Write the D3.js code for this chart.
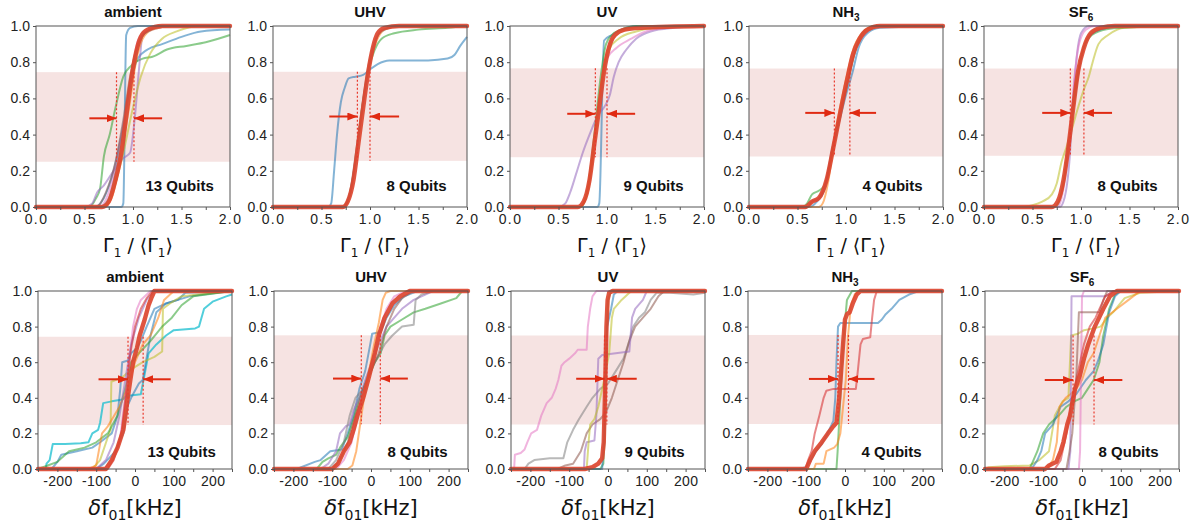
<!DOCTYPE html>
<html>
<head>
<meta charset="utf-8">
<script src="https://cdn.jsdelivr.net/npm/d3@7"></script>
<style>
  body { margin: 0; background: #fff; }
  svg { display: block; font-family: "Liberation Sans", Arial, sans-serif; }
</style>
</head>
<body>
<div id="chart"></div>
<script>
// ---- data ----
const titles = ['ambient', 'UHV', 'UV', 'NH3', 'SF6'];
const qubits = [13, 8, 9, 4, 8];

const gammaTicks = [0, 0.5, 1, 1.5, 2];
const gammaMinor = [0.25, 0.75, 1.25, 1.75];
const freqTicks = [-200, -100, 0, 100, 200];
const freqMinor = [-250, -150, -50, 50, 150, 250];
const cdfTicks = [0, 0.2, 0.4, 0.6, 0.8, 1];

const gammaBands = [[0.25, 0.745], [0.255, 0.747], [0.275, 0.766], [0.279, 0.765], [0.283, 0.765]];
const freqBands = [[0.247, 0.743], [0.252, 0.751], [0.25, 0.75], [0.253, 0.753], [0.25, 0.75]];
const gammaQuartiles = [[0.83, 1.01], [0.87, 1.0], [0.88, 1.0], [0.88, 1.04], [0.89, 1.03]];
const freqQuartiles = [[-18, 21], [-25, 24], [-9, -3], [-18, 9], [-23, 31]];
// arrow tails (left, right) and height
const gammaArrows = [[0.55, 1.30, 0.49], [0.58, 1.30, 0.5], [0.59, 1.29, 0.515], [0.58, 1.31, 0.52], [0.60, 1.32, 0.52]];
const freqArrows = [[-94, 92, 0.504], [-98, 95, 0.508], [-82, 74, 0.507], [-93, 76, 0.506], [-96, 104, 0.5]];

const gammaAmbient = [
  { c: 'blue', p: [[0,0],[0.88,0],[0.9,0.02],[0.93,0.95],[0.97,0.99],[1.05,1],[2,1]] },
  { c: 'blue', p: [[0,0],[0.6,0],[0.7,0.05],[0.8,0.2],[0.9,0.45],[0.98,0.7],[1.05,0.82],[1.15,0.87],[1.3,0.9],[1.5,0.94],[1.7,0.97],[2,0.98]] },
  { c: 'green', p: [[0,0],[0.55,0],[0.62,0.05],[0.66,0.1],[0.7,0.28],[0.76,0.4],[0.82,0.55],[0.9,0.72],[0.98,0.78],[1.1,0.82],[1.2,0.83],[1.35,0.87],[1.55,0.89],[1.75,0.91],[2,0.95]] },
  { c: 'purple', p: [[0,0],[0.5,0],[0.58,0.02],[0.63,0.08],[0.7,0.12],[0.8,0.2],[0.9,0.27],[0.97,0.3],[1.02,0.5],[1.06,0.75],[1.1,0.95],[1.2,0.98],[1.4,1],[2,1]] },
  { c: 'olive', p: [[0,0],[0.7,0],[0.8,0.1],[0.9,0.3],[1.0,0.55],[1.08,0.72],[1.18,0.85],[1.3,0.93],[1.45,0.97],[1.7,1],[2,1]] },
  { c: 'orange', p: [[0,0],[0.7,0],[0.78,0.05],[0.88,0.3],[0.96,0.55],[1.03,0.8],[1.1,0.93],[1.2,0.98],[1.4,1],[2,1]] },
  { c: 'pink', p: [[0,0],[0.65,0],[0.75,0.08],[0.85,0.3],[0.93,0.55],[1.0,0.78],[1.05,0.92],[1.15,0.98],[1.3,1],[2,1]] },
  { c: 'brown', p: [[0,0],[0.62,0],[0.72,0.08],[0.82,0.25],[0.9,0.48],[0.97,0.72],[1.04,0.88],[1.12,0.96],[1.3,1],[2,1]] },
  { c: 'gray', p: [[0,0],[0.66,0],[0.76,0.06],[0.85,0.28],[0.92,0.5],[0.99,0.74],[1.06,0.9],[1.15,0.97],[1.35,1],[2,1]] },
  { c: 'main', p: [[0,0],[0.68,0],[0.75,0.03],[0.82,0.15],[0.88,0.3],[0.93,0.5],[0.98,0.7],[1.03,0.85],[1.08,0.94],[1.15,0.98],[1.3,1],[2,1]] }
];
const gammaUHV = [
  { c: 'blue', p: [[0,0],[0.57,0],[0.6,0.02],[0.63,0.2],[0.66,0.4],[0.7,0.58],[0.74,0.66],[0.78,0.71],[0.85,0.72],[0.93,0.73],[1.0,0.76],[1.08,0.79],[1.2,0.81],[1.4,0.81],[1.6,0.81],[1.8,0.82],[1.87,0.84],[1.93,0.89],[2,0.94]] },
  { c: 'green', p: [[0,0],[0.72,0],[0.78,0.05],[0.85,0.25],[0.92,0.55],[0.98,0.75],[1.05,0.87],[1.12,0.93],[1.25,0.96],[1.5,0.98],[1.8,0.99],[2,1]] },
  { c: 'orange', p: [[0,0],[0.73,0],[0.8,0.08],[0.87,0.35],[0.94,0.62],[1.0,0.8],[1.07,0.92],[1.15,0.98],[1.3,1],[2,1]] },
  { c: 'purple', p: [[0,0],[0.72,0],[0.79,0.06],[0.86,0.3],[0.93,0.58],[0.99,0.78],[1.05,0.91],[1.13,0.98],[1.3,1],[2,1]] },
  { c: 'gray', p: [[0,0],[0.71,0],[0.78,0.05],[0.85,0.28],[0.92,0.56],[0.98,0.77],[1.04,0.9],[1.12,0.97],[1.3,1],[2,1]] },
  { c: 'main', p: [[0,0],[0.72,0],[0.77,0.03],[0.83,0.15],[0.88,0.35],[0.93,0.55],[0.98,0.74],[1.03,0.88],[1.08,0.96],[1.15,0.99],[1.3,1],[2,1]] }
];
const gammaUV = [
  { c: 'blue', p: [[0,0],[0.9,0],[0.92,0.02],[0.97,0.92],[1.05,0.95],[1.15,0.98],[1.3,1],[2,1]] },
  { c: 'purple', p: [[0,0],[0.5,0],[0.57,0.02],[0.62,0.08],[0.68,0.18],[0.75,0.3],[0.82,0.4],[0.9,0.5],[0.98,0.56],[1.03,0.62],[1.07,0.72],[1.12,0.8],[1.2,0.87],[1.3,0.93],[1.45,0.97],[1.7,0.99],[2,1]] },
  { c: 'pink', p: [[0,0],[0.72,0],[0.8,0.08],[0.88,0.4],[0.94,0.65],[1.0,0.82],[1.1,0.88],[1.25,0.93],[1.4,0.97],[1.6,0.99],[2,1]] },
  { c: 'green', p: [[0,0],[0.73,0],[0.8,0.1],[0.87,0.4],[0.93,0.7],[0.99,0.9],[1.05,0.95],[1.15,0.98],[1.3,1],[2,1]] },
  { c: 'olive', p: [[0,0],[0.72,0],[0.8,0.08],[0.88,0.38],[0.95,0.7],[1.02,0.87],[1.12,0.93],[1.3,0.97],[1.5,0.99],[2,1]] },
  { c: 'orange', p: [[0,0],[0.72,0],[0.79,0.07],[0.87,0.37],[0.94,0.68],[1.0,0.86],[1.08,0.94],[1.2,0.98],[1.4,1],[2,1]] },
  { c: 'main', p: [[0,0],[0.7,0],[0.76,0.03],[0.82,0.15],[0.87,0.35],[0.92,0.55],[0.97,0.75],[1.02,0.88],[1.08,0.95],[1.18,0.98],[1.35,0.99],[2,1]] }
];
const gammaNH3 = [
  { c: 'green', p: [[0,0],[0.55,0],[0.6,0.02],[0.65,0.07],[0.72,0.09],[0.78,0.12],[0.84,0.25],[0.9,0.4],[0.97,0.58],[1.03,0.72],[1.1,0.87],[1.17,0.96],[1.3,1],[2,1]] },
  { c: 'blue', p: [[0,0],[0.62,0],[0.7,0.03],[0.78,0.1],[0.85,0.3],[0.92,0.45],[0.99,0.6],[1.07,0.75],[1.13,0.88],[1.22,0.96],[1.35,0.99],[2,1]] },
  { c: 'orange', p: [[0,0],[0.72,0],[0.76,0.02],[0.82,0.15],[0.88,0.38],[0.95,0.58],[1.02,0.75],[1.08,0.88],[1.15,0.95],[1.3,1],[2,1]] },
  { c: 'red', p: [[0,0],[0.6,0],[0.65,0.03],[0.72,0.05],[0.8,0.15],[0.87,0.35],[0.95,0.55],[1.03,0.72],[1.1,0.87],[1.2,0.96],[1.35,1],[2,1]] },
  { c: 'main', p: [[0,0],[0.58,0],[0.65,0.03],[0.72,0.05],[0.8,0.15],[0.87,0.33],[0.94,0.52],[1.01,0.7],[1.07,0.84],[1.14,0.93],[1.22,0.98],[1.35,1],[2,1]] }
];
const gammaSF6 = [
  { c: 'olive', p: [[0,0],[0.4,0],[0.5,0.01],[0.6,0.03],[0.7,0.07],[0.75,0.13],[0.8,0.25],[0.85,0.33],[0.9,0.42],[0.97,0.55],[1.03,0.65],[1.08,0.72],[1.12,0.8],[1.18,0.9],[1.28,0.95],[1.45,0.99],[2,1]] },
  { c: 'purple', p: [[0,0],[0.78,0],[0.83,0.05],[0.88,0.25],[0.92,0.6],[0.96,0.85],[1.0,0.96],[1.08,1],[2,1]] },
  { c: 'green', p: [[0,0],[0.72,0],[0.8,0.08],[0.87,0.32],[0.93,0.6],[0.99,0.8],[1.06,0.92],[1.18,0.97],[1.4,0.99],[2,1]] },
  { c: 'blue', p: [[0,0],[0.74,0],[0.81,0.1],[0.88,0.38],[0.94,0.62],[1.0,0.82],[1.08,0.94],[1.2,0.98],[1.4,1],[2,1]] },
  { c: 'pink', p: [[0,0],[0.76,0],[0.82,0.1],[0.88,0.35],[0.93,0.7],[0.98,0.9],[1.05,0.98],[1.15,1],[2,1]] },
  { c: 'orange', p: [[0,0],[0.73,0],[0.8,0.07],[0.87,0.33],[0.93,0.6],[0.99,0.8],[1.06,0.93],[1.15,0.98],[1.35,1],[2,1]] },
  { c: 'main', p: [[0,0],[0.7,0],[0.76,0.03],[0.82,0.15],[0.87,0.33],[0.92,0.55],[0.97,0.75],[1.03,0.88],[1.1,0.96],[1.2,0.99],[1.35,1],[2,1]] }
];

const freqAmbient = [
  { c: 'cyan', p: [[-250,0],[-230,0],[-228,0.03],[-220,0.05],[-212,0.14],[-180,0.14],[-140,0.145],[-120,0.15],[-110,0.2],[-95,0.22],[-90,0.26],[-82,0.37],[-60,0.38],[-32,0.39],[-22,0.41],[15,0.42],[22,0.5],[35,0.65],[55,0.7],[80,0.75],[100,0.78],[155,0.79],[165,0.8],[178,0.9],[200,0.94],[235,0.97],[250,0.98]] },
  { c: 'blue', p: [[-250,0],[-215,0],[-200,0.04],[-190,0.08],[-150,0.1],[-110,0.12],[-90,0.15],[-60,0.2],[-45,0.3],[-38,0.45],[-33,0.6],[-18,0.61],[-10,0.65],[5,0.68],[15,0.72],[30,0.8],[50,0.9],[80,0.93],[110,0.95],[130,0.99],[250,1]] },
  { c: 'blue', p: [[-250,0],[-100,0],[-80,0.03],[-50,0.1],[-30,0.2],[-20,0.35],[-10,0.4],[10,0.48],[20,0.5],[28,0.6],[40,0.75],[55,0.88],[80,0.93],[140,0.97],[250,1]] },
  { c: 'olive', p: [[-250,0],[-110,0],[-90,0.05],[-70,0.18],[-63,0.22],[-61,0.49],[-50,0.5],[-30,0.52],[-10,0.56],[20,0.6],[50,0.63],[70,0.66],[72,0.9],[90,0.93],[120,0.97],[250,1]] },
  { c: 'green', p: [[-250,0],[-225,0.02],[-200,0.04],[-170,0.1],[-130,0.12],[-100,0.15],[-70,0.2],[-45,0.3],[-25,0.45],[-10,0.6],[10,0.65],[40,0.72],[70,0.8],[95,0.85],[120,0.92],[150,0.97],[250,1]] },
  { c: 'orange', p: [[-250,0],[-120,0],[-100,0.02],[-85,0.2],[-70,0.24],[-40,0.35],[-20,0.45],[0,0.6],[20,0.7],[40,0.75],[60,0.85],[75,0.95],[100,1],[250,1]] },
  { c: 'pink', p: [[-250,0],[-80,0],[-60,0.05],[-40,0.15],[-25,0.4],[-15,0.6],[-5,0.8],[5,0.9],[15,0.95],[40,1],[250,1]] },
  { c: 'purple', p: [[-250,0],[-100,0],[-75,0.05],[-55,0.15],[-40,0.3],[-25,0.5],[-10,0.7],[10,0.85],[30,0.95],[50,1],[250,1]] },
  { c: 'red', p: [[-250,0],[-70,0],[-55,0.05],[-35,0.2],[-22,0.45],[-12,0.65],[0,0.8],[15,0.9],[30,0.96],[45,1],[250,1]] },
  { c: 'main', p: [[-250,0],[-75,0],[-60,0.05],[-45,0.12],[-30,0.22],[-20,0.38],[-12,0.5],[-5,0.6],[5,0.68],[12,0.75],[25,0.84],[35,0.92],[42,0.96],[50,1],[250,1]] }
];
const freqUHV = [
  { c: 'blue', p: [[-250,0],[-190,0],[-180,0.01],[-145,0.04],[-130,0.05],[-115,0.08],[-105,0.1],[-75,0.11],[-60,0.2],[-45,0.3],[-30,0.45],[-15,0.55],[-2,0.7],[3,0.76],[25,0.77],[40,0.85],[60,0.92],[85,0.97],[120,1],[250,1]] },
  { c: 'green', p: [[-250,0],[-140,0],[-125,0.04],[-110,0.06],[-90,0.08],[-80,0.12],[-60,0.18],[-45,0.28],[-30,0.4],[-10,0.5],[10,0.6],[25,0.65],[35,0.75],[50,0.8],[80,0.84],[110,0.88],[140,0.9],[180,0.93],[220,0.96],[235,1],[250,1]] },
  { c: 'purple', p: [[-250,0],[-130,0],[-110,0.03],[-90,0.1],[-80,0.2],[-65,0.24],[-55,0.25],[-45,0.33],[-30,0.4],[-15,0.5],[5,0.62],[20,0.7],[40,0.8],[60,0.85],[80,0.9],[110,0.95],[140,0.98],[160,1],[250,1]] },
  { c: 'gray', p: [[-250,0],[-110,0],[-90,0.05],[-70,0.15],[-55,0.3],[-40,0.4],[-20,0.45],[-5,0.55],[15,0.62],[35,0.7],[55,0.75],[80,0.8],[110,0.81],[115,0.95],[130,0.98],[160,1],[250,1]] },
  { c: 'brown', p: [[-250,0],[-100,0],[-80,0.05],[-60,0.15],[-40,0.3],[-20,0.45],[0,0.55],[20,0.65],[40,0.8],[60,0.9],[80,0.96],[110,1],[250,1]] },
  { c: 'pink', p: [[-250,0],[-90,0],[-70,0.05],[-50,0.15],[-30,0.35],[-10,0.5],[10,0.65],[25,0.8],[40,0.9],[60,0.97],[90,1],[250,1]] },
  { c: 'orange', p: [[-250,0],[-60,0],[-48,0.02],[-38,0.1],[-28,0.25],[-18,0.4],[-5,0.55],[8,0.7],[20,0.82],[30,0.95],[38,0.99],[50,1],[250,1]] },
  { c: 'main', p: [[-250,0],[-100,0],[-85,0.03],[-70,0.1],[-55,0.15],[-45,0.22],[-35,0.3],[-20,0.4],[-5,0.52],[10,0.65],[20,0.75],[35,0.85],[55,0.93],[75,0.97],[100,1],[250,1]] }
];
const freqUV = [
  { c: 'pink', p: [[-250,0],[-242,0],[-240,0.08],[-225,0.09],[-215,0.11],[-208,0.15],[-198,0.2],[-183,0.22],[-172,0.3],[-158,0.37],[-145,0.4],[-135,0.45],[-128,0.5],[-120,0.58],[-112,0.6],[-100,0.62],[-85,0.65],[-78,0.67],[-55,0.67],[-52,0.8],[-46,0.9],[-40,0.97],[-30,1],[250,1]] },
  { c: 'gray', p: [[-250,0],[-215,0],[-205,0.03],[-190,0.05],[-150,0.06],[-115,0.06],[-105,0.15],[-90,0.22],[-75,0.28],[-55,0.35],[-40,0.4],[-20,0.45],[0,0.48],[20,0.55],[40,0.62],[55,0.72],[65,0.8],[80,0.85],[95,0.88],[110,0.95],[125,0.99],[160,0.99],[220,0.98],[250,0.99]] },
  { c: 'brown', p: [[-250,0],[-130,0],[-110,0.02],[-90,0.03],[-70,0.1],[-55,0.2],[-40,0.25],[-20,0.28],[-5,0.32],[10,0.4],[25,0.5],[40,0.6],[55,0.72],[70,0.8],[90,0.85],[110,0.9],[130,0.97],[145,1],[250,1]] },
  { c: 'purple', p: [[-250,0],[-62,0],[-60,0.1],[-55,0.15],[-35,0.16],[-30,0.3],[-25,0.62],[-15,0.64],[20,0.65],[55,0.66],[62,0.85],[70,0.9],[90,0.95],[100,1],[250,1]] },
  { c: 'olive', p: [[-250,0],[-55,0],[-50,0.15],[-46,0.25],[-35,0.28],[-25,0.35],[-10,0.5],[3,0.65],[10,0.85],[15,0.9],[35,0.95],[60,1],[250,1]] },
  { c: 'green', p: [[-250,0],[-20,0],[-12,0.03],[-8,0.2],[-4,0.7],[0,0.95],[8,1],[250,1]] },
  { c: 'blue', p: [[-250,0],[-15,0],[-10,0.2],[-6,0.6],[-2,0.8],[8,0.9],[15,0.98],[25,1],[250,1]] },
  { c: 'main', p: [[-250,0],[-60,0],[-40,0.01],[-25,0.03],[-15,0.06],[-11,0.15],[-8,0.4],[-6,0.6],[-4,0.8],[-1,0.95],[3,0.99],[12,1],[250,1]] }
];
const freqNH3 = [
  { c: 'blue', p: [[-250,0],[-120,0],[-100,0.01],[-88,0.05],[-75,0.1],[-60,0.14],[-45,0.2],[-30,0.27],[-25,0.4],[-22,0.6],[-18,0.8],[-12,0.82],[30,0.82],[85,0.82],[95,0.84],[105,0.87],[120,0.9],[140,0.95],[165,0.98],[190,1],[250,1]] },
  { c: 'green', p: [[-250,0],[-22,0],[-19,0.1],[-12,0.4],[-5,0.7],[5,0.95],[18,1],[250,1]] },
  { c: 'orange', p: [[-250,0],[-80,0],[-75,0.03],[-55,0.03],[-48,0.1],[-28,0.12],[-20,0.14],[-12,0.2],[-5,0.35],[2,0.5],[8,0.75],[15,0.92],[25,0.98],[35,1],[250,1]] },
  { c: 'red', p: [[-250,0],[-102,0],[-95,0.05],[-86,0.1],[-78,0.2],[-66,0.3],[-55,0.4],[-48,0.44],[-30,0.45],[0,0.45],[28,0.45],[33,0.55],[40,0.7],[46,0.73],[65,0.74],[70,0.85],[75,0.95],[82,1],[250,1]] },
  { c: 'main', p: [[-250,0],[-100,0],[-90,0.05],[-78,0.1],[-60,0.15],[-44,0.2],[-30,0.24],[-22,0.26],[-15,0.4],[-10,0.55],[-5,0.7],[0,0.84],[5,0.87],[12,0.88],[20,0.93],[30,0.98],[40,1],[250,1]] }
];
const freqSF6 = [
  { c: 'olive', p: [[-250,0],[-240,0.01],[-200,0.015],[-135,0.02],[-110,0.05],[-85,0.1],[-70,0.3],[-50,0.38],[-35,0.4],[-28,0.75],[-10,0.76],[5,0.78],[30,0.79],[48,0.8],[65,0.85],[80,0.88],[95,0.92],[110,0.96],[150,0.99],[250,1]] },
  { c: 'green', p: [[-250,0],[-135,0],[-125,0.05],[-115,0.1],[-100,0.2],[-85,0.25],[-60,0.3],[-40,0.35],[-20,0.38],[0,0.4],[15,0.45],[30,0.5],[45,0.6],[55,0.75],[70,0.9],[85,0.98],[100,1],[250,1]] },
  { c: 'blue', p: [[-250,0],[-130,0],[-115,0.05],[-105,0.1],[-95,0.2],[-75,0.25],[-55,0.35],[-35,0.38],[-15,0.42],[10,0.5],[30,0.55],[40,0.6],[55,0.7],[70,0.88],[85,0.97],[100,1],[250,1]] },
  { c: 'orange', p: [[-250,0],[-90,0],[-75,0.05],[-65,0.15],[-58,0.35],[-42,0.4],[-30,0.42],[-15,0.45],[0,0.5],[15,0.6],[30,0.65],[45,0.75],[60,0.85],[90,0.9],[120,0.95],[150,1],[250,1]] },
  { c: 'purple', p: [[-250,0],[-35,0],[-30,0.1],[-27,0.97],[0,0.97],[60,0.97],[75,0.99],[85,1],[250,1]] },
  { c: 'pink', p: [[-250,0],[-8,0],[-5,0.1],[0,0.97],[5,1],[250,1]] },
  { c: 'brown', p: [[-250,0],[-40,0],[-32,0.1],[-25,0.2],[-15,0.5],[-8,0.88],[20,0.88],[45,0.88],[55,0.95],[65,1],[250,1]] },
  { c: 'red', p: [[-250,0],[-70,0],[-55,0.05],[-40,0.2],[-25,0.4],[-10,0.55],[5,0.7],[20,0.8],[35,0.85],[45,0.9],[60,0.97],[80,1],[250,1]] },
  { c: 'main', p: [[-250,0],[-95,0],[-85,0.02],[-66,0.04],[-55,0.1],[-48,0.15],[-38,0.25],[-31,0.3],[-18,0.45],[-5,0.53],[5,0.62],[16,0.7],[33,0.8],[55,0.9],[72,0.97],[90,1],[250,1]] }
];

const gammaCurves = [gammaAmbient, gammaUHV, gammaUV, gammaNH3, gammaSF6];
const freqCurves = [freqAmbient, freqUHV, freqUV, freqNH3, freqSF6];

// ---- styles ----
const palette = {
  blue: '#1f77b4', orange: '#ff7f0e', green: '#2ca02c', red: '#d62728', purple: '#9467bd',
  brown: '#8c564b', pink: '#e377c2', gray: '#7f7f7f', olive: '#bcbd22', cyan: '#17becf'
};
const mainColor = '#dc4630';
const arrowColor = '#e02a12';

const W = 1193, H = 523;
const svg = d3.select('#chart').append('svg').attr('width', W).attr('height', H);
svg.append('rect').attr('width', W).attr('height', H).attr('fill', '#fff');

const defs = svg.append('defs');
defs.append('marker')
  .attr('id', 'head')
  .attr('viewBox', '0 0 10 8')
  .attr('refX', 10).attr('refY', 4)
  .attr('markerWidth', 5).attr('markerHeight', 4)
  .attr('markerUnits', 'strokeWidth')
  .attr('orient', 'auto')
  .append('path').attr('d', 'M0,0L10,4L0,8Z').attr('fill', arrowColor);

const topLefts = [36, 273, 510, 749, 984];
const botLefts = [38, 274, 511, 748, 985];
const panelW = 194;

function addTitle(sel, name) {
  // NH3 / SF6 get subscript digits
  const m = name.match(/^([A-Za-z]+?)(\d)$/);
  if (m) {
    sel.append('tspan').text(m[1]);
    sel.append('tspan').attr('font-size', 10).attr('dy', 4).text(m[2]);
  } else {
    sel.text(name);
  }
}

function drawPanel(cfg) {
  const g = svg.append('g').attr('transform', `translate(${cfg.left},${cfg.top})`);
  const w = panelW, h = cfg.h;
  const x = d3.scaleLinear().domain(cfg.domain).range([0, w]);
  const y = d3.scaleLinear().domain([0, 1]).range([h, 0]);

  // shaded interquartile band
  g.append('rect')
    .attr('x', 0).attr('width', w)
    .attr('y', y(cfg.band[1])).attr('height', y(cfg.band[0]) - y(cfg.band[1]))
    .attr('fill', '#f6e3e2');

  const line = d3.line()
    .x(d => x(d[0])).y(d => y(d[1]))
    .curve(cfg.smooth ? d3.curveMonotoneX : d3.curveLinear);

  const others = cfg.curves.filter(d => d.c !== 'main');
  const main = cfg.curves.filter(d => d.c === 'main');

  g.selectAll('.cdf')
    .data(others)
    .join('path')
    .attr('class', 'cdf')
    .attr('d', d => line(d.p))
    .attr('fill', 'none')
    .attr('stroke', d => palette[d.c])
    .attr('stroke-opacity', d => d.c === 'cyan' ? 0.75 : 0.55)
    .attr('stroke-width', 2)
    .attr('stroke-linejoin', 'round');

  g.selectAll('.cdf-main')
    .data(main)
    .join('path')
    .attr('class', 'cdf-main')
    .attr('d', d => line(d.p))
    .attr('fill', 'none')
    .attr('stroke', mainColor)
    .attr('stroke-opacity', 0.92)
    .attr('stroke-width', 4.4)
    .attr('stroke-linejoin', 'round')
    .attr('stroke-linecap', 'round');

  // quartile markers
  g.selectAll('.quart')
    .data(cfg.quart)
    .join('line')
    .attr('class', 'quart')
    .attr('x1', d => x(d)).attr('x2', d => x(d))
    .attr('y1', y(cfg.band[1])).attr('y2', y(cfg.band[0]))
    .attr('stroke', '#e8392c')
    .attr('stroke-width', 1.2)
    .attr('stroke-dasharray', '2,2');

  const [aL, aR, aY] = cfg.arrows;
  g.selectAll('.arrow')
    .data([[aL, cfg.quart[0]], [aR, cfg.quart[1]]])
    .join('line')
    .attr('class', 'arrow')
    .attr('x1', d => x(d[0])).attr('x2', d => x(d[1]))
    .attr('y1', y(aY)).attr('y2', y(aY))
    .attr('stroke', arrowColor)
    .attr('stroke-width', 2)
    .attr('marker-end', 'url(#head)');

  // frame
  g.append('rect')
    .attr('width', w).attr('height', h)
    .attr('fill', 'none').attr('stroke', '#555').attr('stroke-width', 1);

  // axes
  const xAxis = g.append('g').attr('transform', `translate(0,${h})`)
    .call(d3.axisBottom(x).tickValues(cfg.xticks).tickSize(3).tickPadding(4)
      .tickFormat(cfg.xfmt));
  xAxis.append('g').call(d3.axisBottom(x).tickValues(cfg.xminor).tickSize(3).tickFormat(''))
    .select('.domain').remove();
  xAxis.select('.domain').remove();
  xAxis.selectAll('text')
    .attr('font-size', 14).attr('fill', '#222')
    .attr('font-family', '"Liberation Sans", Arial, sans-serif')
    .style('letter-spacing', cfg.smooth ? '1.4px' : '0.3px');
  xAxis.selectAll('line').attr('stroke', '#555');

  const yAxis = g.append('g')
    .call(d3.axisLeft(y).tickValues(cdfTicks).tickSize(3).tickPadding(3).tickFormat(d3.format('.1f')));
  yAxis.select('.domain').remove();
  yAxis.selectAll('text').attr('font-size', 14).attr('fill', '#222')
    .attr('font-family', '"Liberation Sans", Arial, sans-serif');
  yAxis.selectAll('line').attr('stroke', '#555');

  // title
  addTitle(g.append('text')
    .attr('x', w / 2).attr('y', cfg.titleY)
    .attr('text-anchor', 'middle')
    .attr('font-size', 15).attr('font-weight', 'bold').attr('fill', '#111'), cfg.title);

  // qubit count
  g.append('text')
    .attr('x', w * 0.74).attr('y', h - cfg.qOff)
    .attr('text-anchor', 'middle')
    .attr('font-size', 15).attr('font-weight', 'bold').attr('fill', '#111')
    .text(`${cfg.qubits} Qubits`);

  // axis label
  const lab = g.append('text')
    .attr('x', w / 2 + cfg.labDx).attr('y', h + cfg.labY)
    .attr('text-anchor', 'middle')
    .attr('font-family', '"DejaVu Sans", sans-serif')
    .attr('fill', '#111');
  cfg.label(lab);
}

function gammaLabel(t) {
  t.attr('font-size', 19);
  t.append('tspan').text('Γ');
  t.append('tspan').attr('font-size', 12).attr('dy', 5).text('1');
  t.append('tspan').attr('dy', -5).text(' / ⟨Γ');
  t.append('tspan').attr('font-size', 12).attr('dy', 5).text('1');
  t.append('tspan').attr('dy', -5).text('⟩');
}
function freqLabel(t) {
  t.attr('font-size', 21);
  t.append('tspan').attr('font-style', 'italic').text('δ');
  t.append('tspan').text('f');
  t.append('tspan').attr('font-size', 14).attr('dy', 5).text('01');
  t.append('tspan').attr('dy', -5).text('[kHz]');
}

titles.forEach((t, i) => {
  drawPanel({
    left: topLefts[i], top: 26, h: 181,
    domain: [0, 2], smooth: true,
    xticks: gammaTicks, xminor: gammaMinor, xfmt: d3.format('.1f'),
    curves: gammaCurves[i], band: gammaBands[i], quart: gammaQuartiles[i], arrows: gammaArrows[i],
    title: t, titleY: -9, qubits: qubits[i], qOff: 16,
    label: gammaLabel, labY: 45, labDx: 5
  });
  drawPanel({
    left: botLefts[i], top: 291, h: 178,
    domain: [-250, 250], smooth: false,
    xticks: freqTicks, xminor: freqMinor, xfmt: d => d3.format('d')(d).replace('−', '-'),
    curves: freqCurves[i], band: freqBands[i], quart: freqQuartiles[i], arrows: freqArrows[i],
    title: t, titleY: -9, qubits: qubits[i], qOff: 12,
    label: freqLabel, labY: 46, labDx: 0
  });
});
</script>
</body>
</html>
